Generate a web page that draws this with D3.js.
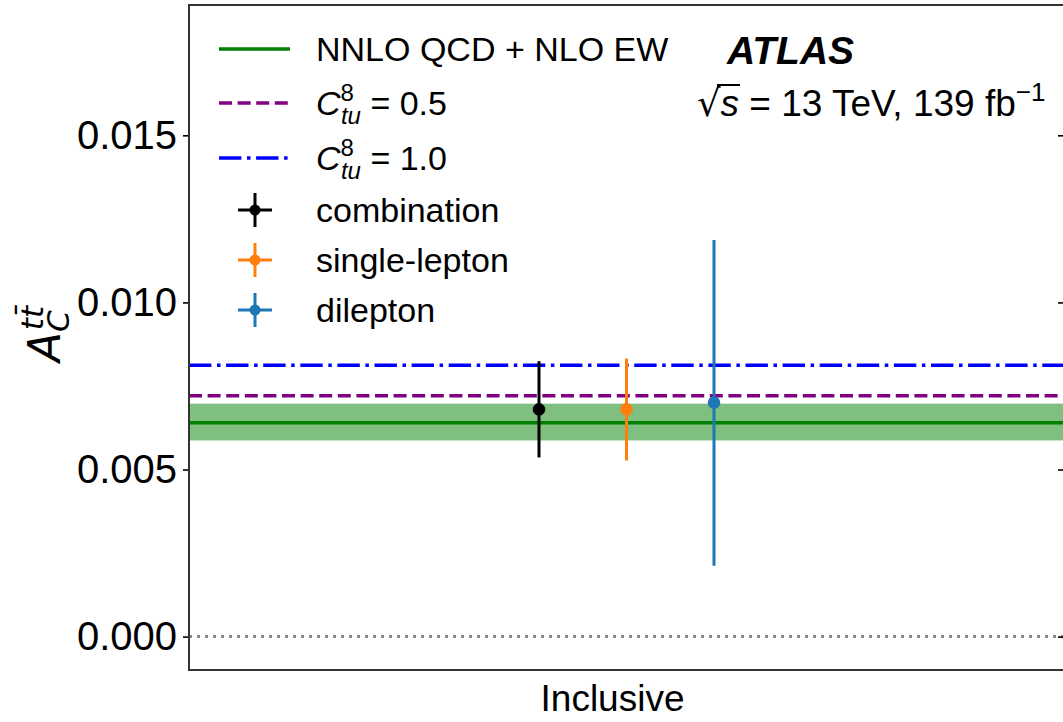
<!DOCTYPE html>
<html>
<head>
<meta charset="utf-8">
<script src="https://cdn.jsdelivr.net/npm/d3@7"></script>
<style>
  html, body { margin: 0; padding: 0; background: #fff; }
  svg { display: block; }
  text { font-family: "Liberation Sans", Arial, Helvetica, sans-serif; fill: #000; }
</style>
</head>
<body>
<svg id="chart" width="1063" height="722"></svg>
<script>
// ---- data ----
const categories = ["Inclusive"];
const measurements = ["combination", "single-lepton", "dilepton"];
const measValues = [0.0068, 0.0068, 0.0070];
const measErrUp = [0.00144, 0.00152, 0.00487];
const measErrDown = [0.00144, 0.00153, 0.00488];
const measColors = ["#000000", "#ff7f0e", "#1f77b4"];

const smValue = 0.0064;
const smBandUp = 0.00697;
const smBandDown = 0.00587;
const eft05Value = 0.00721;
const eft10Value = 0.00812;

const yTicks = [0.000, 0.005, 0.010, 0.015];
const yDomain = [-0.001, 0.0189];

// ---- layout ----
const svg = d3.select("#chart");
const L = 189, R = 1064, T = 5, B = 670;

const x = d3.scaleBand().domain(categories).range([L, R]).padding(0);
const sub = d3.scalePoint().domain(measurements).range([-87.5, 87.5]);
const y = d3.scaleLinear().domain(yDomain).range([B, T]);

const g = svg.append("g");

// zero dotted line
g.append("line")
  .attr("x1", L).attr("x2", R)
  .attr("y1", y(0)).attr("y2", y(0))
  .attr("stroke", "#888").attr("stroke-width", 3)
  .attr("stroke-dasharray", "3,5");

// SM band
g.append("rect")
  .attr("x", L).attr("width", R - L)
  .attr("y", y(smBandUp)).attr("height", y(smBandDown) - y(smBandUp))
  .attr("fill", "#008000").attr("fill-opacity", 0.5);

// SM line
g.append("line")
  .attr("x1", L).attr("x2", R).attr("y1", y(smValue)).attr("y2", y(smValue))
  .attr("stroke", "#008000").attr("stroke-width", 3.5);

// EFT lines
g.append("line")
  .attr("x1", L).attr("x2", R).attr("y1", y(eft05Value)).attr("y2", y(eft05Value))
  .attr("stroke", "#800080").attr("stroke-width", 3.5)
  .attr("stroke-dasharray", "13,5.6");
g.append("line")
  .attr("x1", L).attr("x2", R).attr("y1", y(eft10Value)).attr("y2", y(eft10Value))
  .attr("stroke", "#0000ff").attr("stroke-width", 3.5)
  .attr("stroke-dasharray", "22.4,5.6,3.5,5.6");

// measurements
const cx = x(categories[0]) + x.bandwidth() / 2;
measurements.forEach((m, i) => {
  const px = cx + sub(m);
  g.append("line")
    .attr("x1", px).attr("x2", px)
    .attr("y1", y(measValues[i] + measErrUp[i]))
    .attr("y2", y(measValues[i] - measErrDown[i]))
    .attr("stroke", measColors[i]).attr("stroke-width", 3);
  g.append("circle")
    .attr("cx", px).attr("cy", y(measValues[i])).attr("r", 6.3)
    .attr("fill", measColors[i]);
});

// axes
const yAxisL = d3.axisLeft(y).tickValues(yTicks).tickFormat(d3.format(".3f")).tickSize(6).tickPadding(6);
const gy = svg.append("g").attr("transform", `translate(${L},0)`).call(yAxisL);
gy.select(".domain").remove();
gy.selectAll(".tick line").attr("stroke", "#000").attr("stroke-width", 1.6);
gy.selectAll(".tick text").style("font-size", "40px").attr("fill", "#000")
  .style("font-family", "'Liberation Sans', Arial, sans-serif");

const yAxisR = d3.axisLeft(y).tickValues(yTicks).tickFormat("").tickSize(6);
const gyr = svg.append("g").attr("transform", `translate(${R},0)`).call(yAxisR);
gyr.select(".domain").remove();
gyr.selectAll(".tick line").attr("stroke", "#000").attr("stroke-width", 1.6);

// x axis label (category)
const xAxis = d3.axisBottom(x).tickSize(0).tickPadding(15);
const gx = svg.append("g").attr("transform", `translate(0,${B})`).call(xAxis);
gx.select(".domain").remove();
gx.selectAll(".tick text").style("font-size", "37px").attr("fill", "#000")
  .attr("dx", -14)
  .style("font-family", "'Liberation Sans', Arial, sans-serif");

// frame
svg.append("rect")
  .attr("x", L).attr("y", T).attr("width", R - L).attr("height", B - T)
  .attr("fill", "none").attr("stroke", "#333").attr("stroke-width", 2);

// y label
const yl = svg.append("text")
  .attr("transform", "translate(60,362) rotate(-90)")
  .style("font-size", "44px")
  .style("font-family", "'DejaVu Sans', sans-serif");
yl.append("tspan").text("A").style("font-style", "italic");
yl.append("tspan").text("C").style("font-style", "italic").style("font-size", "31px").attr("dy", 9);
yl.append("tspan").text("t").style("font-style", "italic").style("font-size", "31px").attr("dx", -20).attr("dy", -26);
yl.append("tspan").text("t̄").style("font-style", "italic").style("font-size", "31px");

// legend
const legX1 = 219, legX2 = 290, legTextX = 316;
const fs = 34;
function legText(yc, str) {
  return svg.append("text").attr("x", legTextX).attr("y", yc + 12).style("font-size", fs + "px").text(str);
}
function legCoeff(yc, val) {
  const t = svg.append("text").attr("x", legTextX).attr("y", yc + 12).style("font-size", fs + "px");
  t.append("tspan").text("C").style("font-style", "italic");
  t.append("tspan").text("8").style("font-size", "24px").attr("dy", -14);
  t.append("tspan").text("tu").style("font-style", "italic").style("font-size", "24px").attr("dx", -13).attr("dy", 23);
  t.append("tspan").text(" = " + val).attr("dy", -9);
}
const rows = [49, 103, 158, 210, 260, 310];
svg.append("line").attr("x1", legX1).attr("x2", legX2).attr("y1", rows[0]).attr("y2", rows[0])
  .attr("stroke", "#008000").attr("stroke-width", 3.5);
legText(rows[0], "NNLO QCD + NLO EW");
svg.append("line").attr("x1", legX1).attr("x2", legX2).attr("y1", rows[1]).attr("y2", rows[1])
  .attr("stroke", "#800080").attr("stroke-width", 3.5).attr("stroke-dasharray", "13,5.6");
legCoeff(rows[1], "0.5");
svg.append("line").attr("x1", legX1).attr("x2", legX2).attr("y1", rows[2]).attr("y2", rows[2])
  .attr("stroke", "#0000ff").attr("stroke-width", 3.5).attr("stroke-dasharray", "22.4,5.6,3.5,5.6");
legCoeff(rows[2], "1.0");
measurements.forEach((m, i) => {
  const yc = rows[3 + i], xc = (legX1 + legX2) / 2 + 0.5;
  svg.append("line").attr("x1", xc - 17).attr("x2", xc + 17).attr("y1", yc).attr("y2", yc)
    .attr("stroke", measColors[i]).attr("stroke-width", 3);
  svg.append("line").attr("x1", xc).attr("x2", xc).attr("y1", yc - 17).attr("y2", yc + 17)
    .attr("stroke", measColors[i]).attr("stroke-width", 3);
  svg.append("circle").attr("cx", xc).attr("cy", yc).attr("r", 5.5).attr("fill", measColors[i]);
  legText(yc, m);
});

// ATLAS label
svg.append("text").attr("x", 727).attr("y", 64)
  .style("font-size", "39px").style("font-weight", "bold").style("font-style", "italic")
  .text("ATLAS");
const en = svg.append("text").attr("x", 697).attr("y", 116).style("font-size", "37px");
en.append("tspan").text("√").style("font-family", "'DejaVu Sans', sans-serif");
en.append("tspan").text("s").style("font-style", "italic");
en.append("tspan").text(" = 13 TeV, 139 fb");
en.append("tspan").text("−1").style("font-size", "26px").attr("dy", -15);
// vinculum over s
svg.append("line").attr("x1", 717).attr("x2", 740).attr("y1", 85).attr("y2", 85)
  .attr("stroke", "#000").attr("stroke-width", 2);
</script>
</body>
</html>
